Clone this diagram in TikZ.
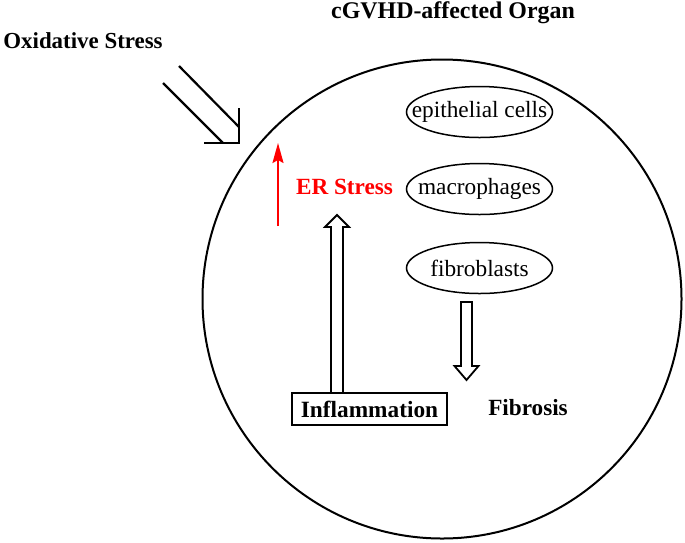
\documentclass[tikz,border=0pt]{standalone}
\usepackage{fontspec}
\setmainfont{Liberation Serif}
\usetikzlibrary{shapes.geometric,arrows.meta,calc}
\begin{document}
\begin{tikzpicture}[x=1pt,y=-1pt,
  bold/.style={font=\fontsize{23.2}{26}\selectfont\bfseries, inner sep=0pt},
  cell/.style={draw, ellipse, line width=1.5pt, minimum width=146pt, minimum height=51pt, inner sep=0pt, font=\fontsize{23.3}{26}\selectfont},
  blk/.style={draw, line width=1.8pt, fill=white, line join=miter},
  oxline/.style={draw, line width=2.2pt},
]
\useasboundingbox (0,0) rectangle (685,542);

% organ circle
\node[draw, circle, line width=2pt, minimum size=479pt, inner sep=0pt] (organ) at (442,299) {};

% titles
\node[bold, anchor=base, font=\fontsize{23.9}{26}\selectfont\bfseries] (title) at (453,18) {cGVHD-affected Organ};
\node[bold, anchor=base, font=\fontsize{22.9}{26}\selectfont\bfseries] (ox) at (83,48) {Oxidative Stress};

% oxidative stress open arrow
\coordinate (oxa1) at (179,66);
\coordinate (oxa2) at (239,127);
\coordinate (oxb1) at (163,83);
\coordinate (oxb2) at (223,143);
\coordinate (oxtop) at (239,109);
\coordinate (oxcorner) at (239,143);
\coordinate (oxleft) at (205,143);
\draw[oxline] (oxa1) -- (oxa2);
\draw[oxline] (oxb1) -- (oxb2);
\draw[oxline, line cap=rect] (oxtop) -- (oxcorner) -- (oxleft);

% ER stress
\node[bold, anchor=base, text=red] (er) at (344.5,194) {ER Stress};
\coordinate (r0) at (278,226);
\coordinate (r1) at (278,143);
\draw[red, line width=2pt, -{Stealth[length=20pt,width=11pt,inset=3pt]}] (r0) -- (r1);

% cells
\node[cell] (epi) at (479.5,112) {\makebox[0pt]{epithelial cells}};
\node[cell] (mac) at (479.5,189) {\makebox[0pt]{macrophages}};
\node[cell] (fib) at (479.5,268) {\makebox[0pt]{fibroblasts}};

% inflammation and fibrosis
\node[draw, line width=2pt, minimum width=155pt, minimum height=32pt, inner sep=0pt,
      font=\fontsize{23.3}{26}\selectfont\bfseries] (infl) at (369.5,409) {Inflammation};
\node[bold, anchor=base] (fibr) at (528,415) {Fibrosis};

% hollow up arrow: inflammation -> ER stress
\coordinate (ua0) at (337,393);
\coordinate (ua1) at (337,215);
\draw[blk] ($(ua0)+(-6,0)$) -- ($(ua1)+(-6,12)$) -- ($(ua1)+(-12,12)$) -- (ua1)
  -- ($(ua1)+(12,12)$) -- ($(ua1)+(6,12)$) -- ($(ua0)+(6,0)$) -- cycle;

% hollow down arrow: fibroblasts -> fibrosis
\coordinate (da0) at (466.5,302);
\coordinate (da1) at (466.5,380);
\draw[blk] ($(da0)+(-5.5,0)$) -- ($(da1)+(-5.5,-14)$) -- ($(da1)+(-12,-14)$) -- (da1)
  -- ($(da1)+(12,-14)$) -- ($(da1)+(5.5,-14)$) -- ($(da0)+(5.5,0)$) -- cycle;
\end{tikzpicture}
\end{document}
